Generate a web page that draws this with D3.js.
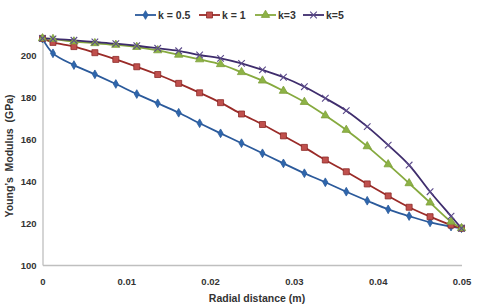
<!DOCTYPE html>
<html><head><meta charset="utf-8">
<script src="https://cdn.jsdelivr.net/npm/d3@7/dist/d3.min.js"></script>
<style>body{margin:0;background:#fff}svg{display:block}text{font-family:"Liberation Sans",Arial,sans-serif;font-weight:bold;fill:#333;white-space:pre}</style>
</head><body>
<svg id="c" width="480" height="308"></svg>
<script>
const xValues = [0,0.00125,0.00375,0.00625,0.00875,0.01125,0.01375,0.01625,0.01875,0.02125,0.02375,0.02625,0.02875,0.03125,0.03375,0.03625,0.03875,0.04125,0.04375,0.04625,0.04875,0.05];
const k05 = [207.8,200.8,195.2,190.8,186.2,181.4,177.0,172.5,167.5,162.7,158.0,153.2,148.4,143.7,139.4,134.9,130.6,126.5,123.3,120.3,118.3,117.5];
const k1  = [207.9,206.0,204.0,201.1,197.9,194.4,190.7,186.5,182.0,177.3,171.9,166.9,161.5,156.0,150.0,144.4,138.6,132.9,127.5,123.0,119.0,117.5];
const k3  = [207.9,207.6,206.4,205.6,204.8,203.8,202.2,200.1,197.9,195.6,191.8,187.8,182.9,177.6,171.2,164.3,156.5,147.9,138.9,129.7,120.6,117.5];
const k5  = [207.9,207.7,207.0,206.2,205.4,204.4,203.2,202.0,200.0,198.4,196.0,192.9,189.4,184.9,179.4,173.5,165.9,157.1,147.6,134.9,123.3,117.5];
const seriesNames = ["k = 0.5","k = 1","k=3","k=5"];
const xTicks = [0,0.01,0.02,0.03,0.04,0.05];
const xTickLabels = ["0","0.01","0.02","0.03","0.04","0.05"];
const yTicks = [100,120,140,160,180,200];
const xTitle = "Radial distance (m)";
const yTitle = "Young\u2019s  Modulus  (GPa)";

const svg = d3.select("#c");
const x = d3.scaleLinear().domain([0,0.05]).range([42.5,461.5]);
const y = d3.scaleLinear().domain([100,208]).range([265,38.2]);

const styles = [
  {line:"#2B5A9B", fill:"#2E66AD", stroke:"#2B5A9B", sym:d3.symbolDiamond, size:22},
  {line:"#9A2B28", fill:"#C0504D", stroke:"#8B2A27", sym:d3.symbolSquare, size:36},
  {line:"#86AA3E", fill:"#8DB346", stroke:"#7FA03A", sym:d3.symbolTriangle, size:30},
  {line:"#3E2C6C", fill:"none", stroke:"#5B4A8A", sym:d3.symbolX, size:30}
];
const data = [k05,k1,k3,k5];

// axes
const gx = svg.append("g").attr("transform","translate(0,265)")
  .call(d3.axisBottom(x).tickValues(xTicks).tickFormat((d,i)=>xTickLabels[i]).tickSize(0).tickPadding(13));
gx.select(".domain").attr("stroke","#BFBFBF").attr("stroke-width",1.3);
const gy = svg.append("g").attr("transform","translate(42.5,0)")
  .call(d3.axisLeft(y).tickValues(yTicks).tickSize(0).tickPadding(6));
gy.select(".domain").attr("stroke","#BFBFBF").attr("stroke-width",1.3);
svg.selectAll(".tick text").style("font-family","'Liberation Sans',Arial,sans-serif").style("font-weight","bold").style("font-size","9.5px").attr("fill","#333");

svg.append("text").attr("x",257).attr("y",302).attr("text-anchor","middle").style("font-size","10.5px").text(xTitle);
svg.append("text").attr("transform","translate(13,156) rotate(-90)").attr("text-anchor","middle").style("font-size","10.5px").text(yTitle);

const line = d3.line().x((d,i)=>x(xValues[i])).y(d=>y(d)).curve(d3.curveCatmullRom.alpha(0.5));
data.forEach((s,j)=>{
  const st = styles[j];
  svg.append("path").datum(s).attr("d",line).attr("fill","none").attr("stroke",st.line).attr("stroke-width",1.8);
});
data.forEach((s,j)=>{
  const st = styles[j];
  svg.append("g").selectAll("path").data(s).join("path")
    .attr("transform",(d,i)=>`translate(${x(xValues[i])},${y(d)})`)
    .attr("d",d3.symbol().type(st.sym).size(st.size))
    .attr("fill",st.fill).attr("stroke",st.stroke).attr("stroke-width",j===3?1.1:0.8);
});

// legend
const legX = [135,199,255,303];
const lg = svg.append("g");
seriesNames.forEach((n,j)=>{
  const st = styles[j];
  const g = lg.append("g").attr("transform",`translate(${legX[j]},15)`);
  g.append("line").attr("x1",0).attr("x2",21).attr("stroke",st.line).attr("stroke-width",1.8);
  g.append("path").attr("transform","translate(10.5,0)").attr("d",d3.symbol().type(st.sym).size(st.size))
    .attr("fill",st.fill).attr("stroke",st.stroke).attr("stroke-width",j===3?1.1:0.8);
  g.append("text").attr("x",23).attr("y",3.5).style("font-size","10.5px").text(n);
});
</script>
</body></html>
